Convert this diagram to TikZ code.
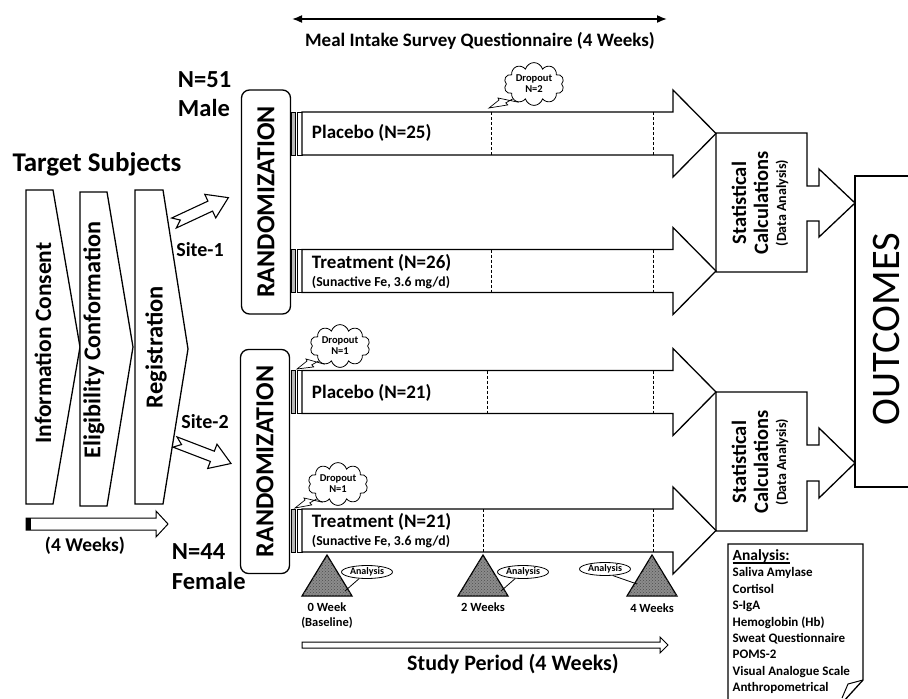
\documentclass[tikz,border=0pt]{standalone}
\usepackage{fontspec}
\setmainfont{Carlito}
\usetikzlibrary{shapes.symbols,shapes.geometric,arrows.meta,patterns}

\newcommand\setfs[1]{\fontsize{#1}{#1}\selectfont}
\newcommand\thickul[1]{\setbox0\hbox{#1}\rlap{\rule[-3pt]{\wd0}{1.2pt}}\box0}

% one study arm: #1 centre y, #2 x of the first dashed mark
\newcommand\trialbar[2]{%
  \fill[gray!55] (291,#1-21.5) rectangle (295,#1+21.5);
  \draw[line width=0.8pt] (291,#1-21.5) rectangle (295,#1+21.5);
  \draw[line width=0.8pt] (297,#1-21.5) rectangle (302,#1+21.5);
  \draw[box] (302,#1-21.5) -- (673,#1-21.5) -- (673,#1-43.5) -- (716,#1)
    -- (673,#1+43.5) -- (673,#1+21.5) -- (302,#1+21.5) -- cycle;
  \draw[densely dashed, line width=1pt] (#2,#1-21.5) -- (#2,#1+21.5);
  \draw[densely dashed, line width=1pt] (653,#1-21.5) -- (653,#1+21.5);
}

\tikzset{
  box/.style={draw, line width=1.3pt, fill=white},
  big/.style={font=\bfseries\setfs{24.5}},
  randbox/.style={draw, line width=1.3pt, rounded corners=8pt, rotate=90,
    minimum width=224pt, minimum height=49pt, inner sep=0pt, font=\bfseries\setfs{26}},
  armtext/.style={anchor=west, font=\bfseries\setfs{19}},
  subtext/.style={anchor=west, font=\bfseries\setfs{13.7}},
  dropout/.style={cloud, cloud puffs=10, aspect=1.6, draw, line width=0.8pt,
    fill=white, minimum width=60pt, minimum height=39pt, inner sep=0pt,
    align=center, font=\bfseries\fontsize{10.5}{11}\selectfont},
  anaoval/.style={ellipse, draw, line width=0.8pt, fill=white, minimum width=51pt,
    minimum height=13pt, inner sep=0pt, font=\bfseries\setfs{10}},
  wk/.style={font=\bfseries\fontsize{12.5}{15}\selectfont, align=center},
  statbox/.style={rotate=90, align=center, font=\bfseries\fontsize{20.5}{22}\selectfont},
  timepoint/.style={line width=1.2pt, fill=black!45,
    postaction={pattern=crosshatch dots, pattern color=black!70}},
  sitearrow/.pic={
    \draw[line width=1.1pt, fill=white] (0,-5.5) -- (40,-5.5) -- (40,-13) -- (60,0)
      -- (40,13) -- (40,5.5) -- (0,5.5) -- (7,0) -- cycle;
  }
}

\begin{document}
\begin{tikzpicture}[x=1pt, y=-1pt, line width=1.3pt]
  \useasboundingbox (0,0) rectangle (908,699);
  \clip (0,0) rectangle (908,699);

  % questionnaire span
  \coordinate (q1) at (292,19);
  \coordinate (q2) at (667,19);
  \draw[{Latex[length=10pt,width=8pt]}-{Latex[length=10pt,width=8pt]}, line width=1.6pt] (q1) -- (q2);
  \node[font=\bfseries\setfs{19}] (meal) at (480,41) {Meal Intake Survey Questionnaire (4 Weeks)};

  % enrolment steps
  \node[font=\bfseries\setfs{27}] (target) at (97,164) {Target Subjects};
  \draw[box] (26,190) -- (53,190) -- (80,347) -- (53,504) -- (26,504) -- cycle;
  \draw[box] (80,192) -- (107,192) -- (133,347) -- (107,506) -- (80,506) -- cycle;
  \draw[box] (135,190) -- (163,190) -- (188,349) -- (163,504) -- (135,504) -- cycle;
  \node[rotate=90, font=\bfseries\setfs{23.5}] (consent) at (43,343) {Information Consent};
  \node[rotate=90, font=\bfseries\setfs{24.2}] (elig) at (94,340) {Eligibility Conformation};
  \node[rotate=90, font=\bfseries\setfs{24.5}] (regis) at (156,347) {Registration};

  \fill (26,518) rectangle (31,530);
  \draw[line width=1pt] (26,518) -- (156,518) -- (156,511) -- (168,524)
    -- (156,537) -- (156,530) -- (26,530) -- cycle;
  \node[font=\bfseries\setfs{19.5}] (enrol) at (85,546) {(4 Weeks)};

  \pic[rotate=25] at (174,223) {sitearrow};
  \pic[rotate=-21] at (175,442) {sitearrow};
  \node[font=\bfseries\setfs{20}] (site1) at (200,250) {Site-1};
  \node[font=\bfseries\setfs{20}] (site2) at (205,422) {Site-2};

  \node[big, anchor=west] (nmale) at (174,80) {N=51};
  \node[big, anchor=west] (male) at (174,108) {Male};
  \node[big, anchor=west] (nfem) at (168,552) {N=44};
  \node[big, anchor=west] (female) at (168,581) {Female};

  % statistics and outcomes
  \draw[box] (716,133) -- (807,133) -- (807,186) -- (819,186) -- (819,169) -- (855,203)
    -- (819,237) -- (819,221) -- (807,221) -- (807,272) -- (716,272) -- cycle;
  \draw[box] (716,392) -- (807,392) -- (807,445) -- (819,445) -- (819,428) -- (855,463)
    -- (819,498) -- (819,481) -- (807,481) -- (807,531) -- (716,531) -- cycle;
  \node[statbox] (stat1) at (760,203) {Statistical\\Calculations\\[-4pt]{\setfs{14}(Data Analysis)}};
  \node[statbox] (stat2) at (760,462) {Statistical\\Calculations\\[-4pt]{\setfs{14}(Data Analysis)}};
  \draw[box] (915,176) -- (855,176) -- (855,487) -- (915,487);
  \node[rotate=90, font=\setfs{40.5}] (outcomes) at (886,329) {OUTCOMES};

  % randomisation and arms
  \node[randbox] (rand1) at (266,202) {RANDOMIZATION};
  \node[randbox] (rand2) at (265,461.5) {RANDOMIZATION};

  \trialbar{133.5}{491}
  \trialbar{271}{491}
  \trialbar{392}{487}
  \trialbar{530.5}{483}

  \node[armtext] (plac1) at (308,133) {Placebo (N=25)};
  \node[armtext] (treat1) at (308,263) {Treatment (N=26)};
  \node[subtext] (dose1) at (308,283) {(Sunactive Fe, 3.6 mg/d)};
  \node[armtext] (plac2) at (308,393) {Placebo (N=21)};
  \node[armtext] (treat2) at (308,522) {Treatment (N=21)};
  \node[subtext] (dose2) at (308,542) {(Sunactive Fe, 3.6 mg/d)};

  % dropouts
  \node[dropout] (drop1) at (534,84) {Dropout\\N=2};
  \node[dropout] (drop2) at (340,346) {Dropout\\N=1};
  \node[dropout] (drop3) at (338,484) {Dropout\\N=1};
  \coordinate (tail1) at (489,108);
  \coordinate (tail2) at (297,369);
  \coordinate (tail3) at (295,508);
  \foreach \d/\t in {drop1/tail1, drop2/tail2, drop3/tail3} {
    \draw[line width=0.7pt] (\d.215) -- ++(-7,4) -- ++(2,2) -- (\t) -- ++(10,-8) -- ++(-1,-2) -- (\d.230);
  }

  % assessment points
  \foreach \tx/\nm in {327/tri0, 483/tri2, 652/tri4} {
    \draw[timepoint] (\tx-25,596) -- (\tx+25,596) -- (\tx,555) -- cycle;
    \coordinate (\nm-r) at (\tx+18,591);
    \coordinate (\nm-l) at (\tx-15,584);
  }
  \node[anaoval] (ana0) at (367,572) {Analysis};
  \node[anaoval] (ana2) at (523,572) {Analysis};
  \node[anaoval] (ana4) at (605,569) {Analysis};
  \draw[line width=0.8pt] (ana0.220) -- (tri0-r);
  \draw[line width=0.8pt] (ana2.220) -- (tri2-r);
  \draw[line width=0.8pt] (ana4.320) -- (tri4-l);
  \node[wk] (wk0) at (327,616) {0 Week\\(Baseline)};
  \node[wk] (wk2) at (483,607) {2 Weeks};
  \node[wk] (wk4) at (652,608) {4 Weeks};

  \draw[line width=1pt] (302,642) -- (660,642) -- (660,637) -- (668,645)
    -- (660,653) -- (660,648) -- (302,648) -- cycle;
  \node[font=\bfseries\setfs{22}] (period) at (513,664) {Study Period (4 Weeks)};

  % list of measures
  \draw[line width=1.3pt] (728,705) -- (728,544) -- (863,544) -- (863,680) -- (843,702);
  \draw[line width=1pt] (863,680) -- (848,684) -- (842,698);
  \node[anchor=north west, align=left, font=\bfseries\fontsize{13}{16.4}\selectfont, inner sep=0pt] (measures) at (732,549)
    {{\setfs{15.5}\thickul{Analysis:}}\\Saliva Amylase\\Cortisol\\S-IgA\\Hemoglobin (Hb)\\Sweat Questionnaire\\POMS-2\\Visual Analogue Scale\\Anthropometrical};
\end{tikzpicture}
\end{document}
